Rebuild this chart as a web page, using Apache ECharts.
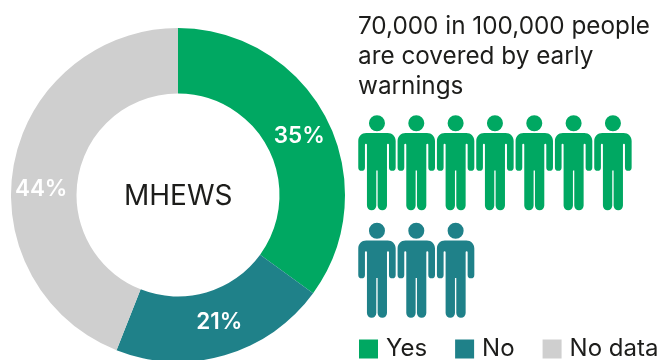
<!DOCTYPE html>
<html>
<head>
<meta charset="utf-8">
<style>html,body{margin:0;padding:0;background:#fff}#chart{width:664px;height:360px}</style>
<script src="https://cdn.jsdelivr.net/npm/echarts@6/dist/echarts.min.js"></script>
</head>
<body>
<div id="chart"></div>
<script>
// Share of people covered by multi-hazard early warning systems
const categories = ['Yes', 'No', 'No data'];
const shares = [35, 21, 44];
const colors = ['#00A862', '#1F8189', '#CFCFCF'];
const labelOffsets = [[-1, 4], [3, -5], [-2, 20]];

// One figure stands for 10,000 people out of 100,000
const peopleRows = ['Covered', 'Not covered'];
const peopleCounts = [7, 3];
const rowColors = ['#00A862', '#1F8189'];

const headline = '70,000 in 100,000 people\nare covered by early\nwarnings';
const centerLabel = 'MHEWS';
const FONT = 'Inter, Roboto, "Liberation Sans", sans-serif';

const personPath = 'path://M56 0A24 24 0 1 1 56 48A24 24 0 1 1 56 0Z' +
  'M24 53H88C102 53 112 63 112 77V156A10 10 0 0 1 92 156V88Q92 85 89 85Q86 85 86 88V270' +
  'A14 14 0 0 1 58 270V165H54V270A14 14 0 0 1 26 270V88Q26 85 23 85Q20 85 20 88V156' +
  'A10 10 0 0 1 0 156V77C0 63 10 53 24 53Z';

const chart = echarts.init(document.getElementById('chart'), null, { renderer: 'canvas' });
chart.setOption({
  animation: false,
  backgroundColor: '#fff',
  title: [
    { text: headline, left: 358, top: 12, padding: 0,
      textStyle: { fontFamily: FONT, fontSize: 24.3, fontWeight: 400, lineHeight: 30, color: '#1d1d1b' } },
    { text: centerLabel, left: 124, top: 183, padding: 0,
      textStyle: { fontFamily: FONT, fontSize: 28, fontWeight: 400, color: '#1d1d1b' } }
  ],
  legend: {
    left: 359, top: 337, itemWidth: 19, itemHeight: 19, itemGap: 28, padding: 0,
    icon: 'rect', data: categories,
    textStyle: { fontFamily: FONT, fontSize: 24, color: '#1d1d1b', padding: [0, 0, 0, 3] }
  },
  grid: { left: 357.3, top: 109, width: 275.3, height: 215 },
  xAxis: { type: 'value', min: 0, max: 7, show: false },
  yAxis: { type: 'category', inverse: true, data: peopleRows, show: false },
  series: [
    {
      type: 'pie',
      center: [178, 195],
      radius: [101.5, 167],
      startAngle: 90,
      clockwise: true,
      itemStyle: { borderWidth: 0 },
      label: {
        position: 'inside', formatter: '{d}%',
        fontFamily: FONT, fontSize: 22.5, fontWeight: 600, color: '#fff'
      },
      labelLine: { show: false },
      data: categories.map((name, i) => ({
        name, value: shares[i],
        itemStyle: { color: colors[i] },
        label: { offset: labelOffsets[i] }
      }))
    },
    {
      type: 'pictorialBar',
      symbol: personPath,
      symbolSize: [37.4, 95],
      symbolRepeat: true,
      symbolMargin: '1!',
      data: peopleCounts.map((value, i) => ({
        value, itemStyle: { color: rowColors[i] }
      }))
    }
  ]
});
</script>
</body>
</html>
